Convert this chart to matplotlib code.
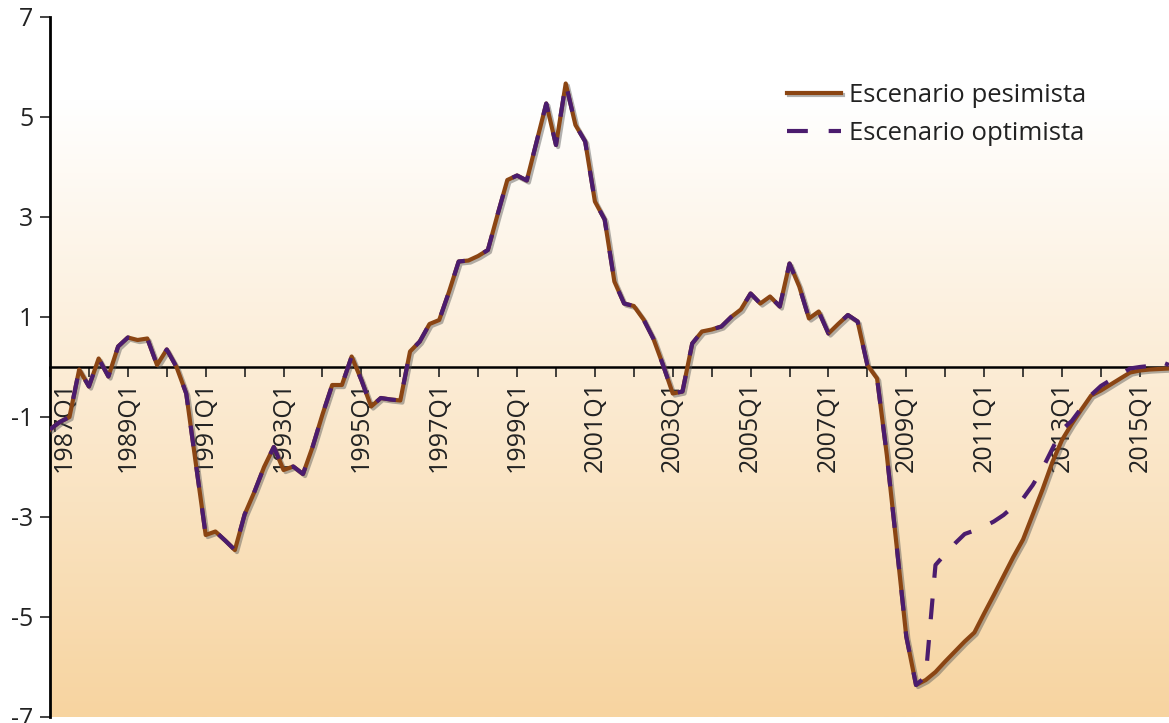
import matplotlib
matplotlib.use('Agg')
import matplotlib.pyplot as plt
import matplotlib.patheffects as pe
import numpy as np
from matplotlib.colors import LinearSegmentedColormap

plt.rcParams['font.family'] = ['Open Sans', 'DejaVu Sans']
plt.rcParams['axes.unicode_minus'] = False
plt.rcParams['lines.scale_dashes'] = False

# trimestres 1987Q1 .. 2015Q4
anios = list(range(1987, 2016))
trimestres = ['%dQ%d' % (a, q) for a in anios for q in range(1, 5)]

# historia comun hasta 2009Q2
historia = [
    -1.25, -1.1, -1.0, -0.05,
    -0.39, 0.17, -0.19, 0.41,
    0.59, 0.54, 0.57, 0.04,
    0.35, 0.0, -0.53, -1.95,
    -3.36, -3.29, -3.47, -3.66,
    -2.95, -2.5, -2.0, -1.6,
    -2.06, -1.99, -2.14, -1.59,
    -0.95, -0.36, -0.36, 0.21,
    -0.26, -0.79, -0.62, -0.65,
    -0.67, 0.31, 0.51, 0.86,
    0.94, 1.5, 2.11, 2.13,
    2.22, 2.34, 3.05, 3.74,
    3.83, 3.73, 4.5, 5.27,
    4.44, 5.67, 4.84, 4.51,
    3.31, 2.95, 1.71, 1.27,
    1.22, 0.95, 0.57, 0.04,
    -0.53, -0.49, 0.47, 0.71,
    0.75, 0.81, 1.0, 1.15,
    1.47, 1.27, 1.41, 1.21,
    2.07, 1.61, 0.97, 1.11,
    0.67, 0.86, 1.04, 0.91,
    0.04, -0.23, -1.76, -3.56,
    -5.39, -6.36,
]

# proyecciones 2009Q3 .. 2015Q4
proy_pesimista = [
    -6.26, -6.1,
    -5.89, -5.69, -5.49, -5.31,
    -4.93, -4.56, -4.18, -3.8,
    -3.45, -2.95, -2.45, -1.91,
    -1.46, -1.14, -0.85, -0.57,
    -0.47, -0.35, -0.23, -0.11,
    -0.07, -0.05, -0.04, -0.03,
]
proy_optimista = [
    -6.19, -3.96,
    -3.74, -3.53, -3.34, -3.27,
    -3.19, -3.09, -2.96, -2.79,
    -2.63, -2.36, -2.03, -1.64,
    -1.25, -1.08, -0.82, -0.56,
    -0.38, -0.26, -0.15, -0.03,
    0.0, 0.02, 0.12, 0.04,
]

pesimista = historia + proy_pesimista
optimista = historia + proy_optimista
x = np.arange(len(trimestres))

col_pes = '#8B4513'
col_opt = '#4B1C6E'

fig = plt.figure(figsize=(11.69, 7.23), dpi=100)
ax = fig.add_axes([50/1169, 6/723, 1119/1169, 700/723])

# fondo degradado
fondo = LinearSegmentedColormap.from_list(
    'fondo', [(0, '#F7D4A0'), (0.88, '#FFFFFF'), (1, '#FFFFFF')])
grad = np.linspace(1, 0, 256).reshape(-1, 1)
ax.imshow(grad, cmap=fondo, extent=[0, len(x) - 1, -7, 7],
          aspect='auto', zorder=0, interpolation='bilinear')

sombra = [pe.SimpleLineShadow(offset=(1.5, -1.5), shadow_color='#555555', alpha=0.45),
          pe.Normal()]

ax.plot(x, pesimista, color=col_pes, lw=3.0, zorder=3,
        label='Escenario pesimista', path_effects=sombra)
ax.plot(x, optimista, color=col_opt, lw=3.0, zorder=4, dashes=(15, 15),
        label='Escenario optimista')

ax.set_xlim(0, len(x) - 1)
ax.set_ylim(-7, 7)

ax.spines['top'].set_visible(False)
ax.spines['right'].set_visible(False)
ax.spines['left'].set_linewidth(2.0)
ax.spines['bottom'].set_linewidth(1.8)
ax.spines['bottom'].set_position(('data', 0))

ax.set_yticks([7, 5, 3, 1, -1, -3, -5, -7])
ax.tick_params(axis='y', direction='out', length=7, width=1.2, pad=5,
               labelsize=18, colors='#222222')

pos = list(range(0, len(x), 4))
etiquetas = []
for p in pos:
    a = int(trimestres[p][:4])
    if a % 2 == 1 and p > 0:
        etiquetas.append(trimestres[p])
    else:
        etiquetas.append('')
ax.set_xticks(pos)
ax.set_xticklabels(etiquetas, rotation=90)
ax.tick_params(axis='x', direction='out', length=7, width=1.2, pad=3,
               labelsize=18, colors='#222222')

# primera etiqueta desplazada del eje vertical
ax.annotate(trimestres[0], xy=(0, 0), xytext=(10.5, -10), textcoords='offset points',
            rotation=90, ha='center', va='top', fontsize=18, color='#222222',
            zorder=2)

leg = ax.legend(loc='upper left', bbox_to_anchor=(787/1169, 1 - 83/723),
                bbox_transform=fig.transFigure, frameon=False, fontsize=18.5,
                handlelength=2.1, handletextpad=0.3, labelspacing=0.5,
                borderpad=0, borderaxespad=0)
for t in leg.get_texts():
    t.set_color('#222222')

fig.savefig('out.png', dpi=100)
